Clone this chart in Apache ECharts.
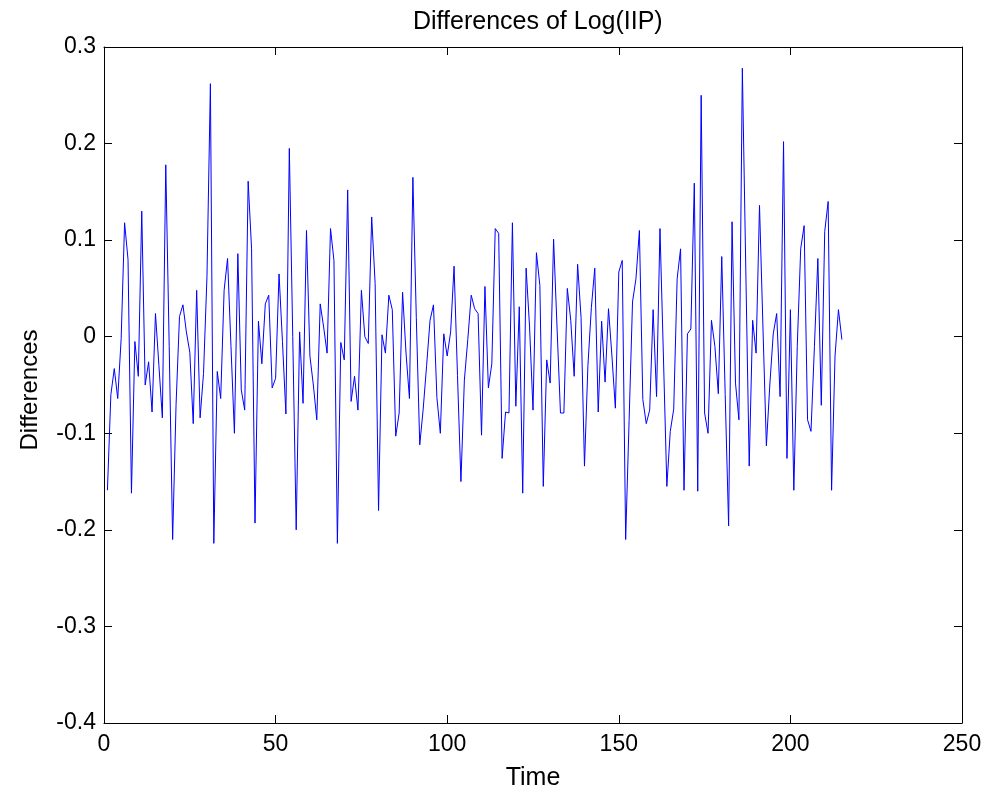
<!DOCTYPE html>
<html>
<head>
<meta charset="utf-8">
<script src="https://cdn.jsdelivr.net/npm/echarts@6/dist/echarts.min.js"></script>
<style>html,body{margin:0;padding:0;background:#fff;}#chart{width:990px;height:796px;}</style>
</head>
<body>
<div id="chart"></div>
<script>
const titleText = 'Differences of Log(IIP)';
const xName = 'Time';
const yName = 'Differences';
const xTicks = [0, 50, 100, 150, 200, 250];
const yTicks = [-0.4, -0.3, -0.2, -0.1, 0, 0.1, 0.2, 0.3];
const diffs = [
 -0.159,-0.060,-0.033,-0.064,-0.002,0.118,0.080,-0.162,-0.005,-0.041,
 0.130,-0.050,-0.026,-0.078,0.024,-0.030,-0.084,0.178,-0.010,-0.210,
 -0.070,0.021,0.033,0.005,-0.016,-0.090,0.048,-0.084,-0.038,0.062,
 0.262,-0.214,-0.036,-0.064,0.048,0.081,-0.010,-0.100,0.086,-0.055,
 -0.076,0.161,0.091,-0.193,0.016,-0.028,0.034,0.043,-0.053,-0.043,
 0.065,-0.005,-0.080,0.195,0.000,-0.200,0.005,-0.069,0.110,-0.020,
 -0.050,-0.086,0.034,0.010,-0.017,0.112,0.079,-0.214,-0.006,-0.024,
 0.152,-0.067,-0.041,-0.076,0.048,0.000,-0.007,0.124,0.055,-0.180,
 0.002,-0.017,0.043,0.028,-0.103,-0.079,0.046,-0.017,-0.064,0.165,
 0.020,-0.112,-0.075,-0.030,0.017,0.033,-0.063,-0.100,0.003,-0.020,
 0.005,0.073,-0.040,-0.150,-0.045,-0.003,0.043,0.029,0.024,-0.102,
 0.052,-0.053,-0.028,0.112,0.107,-0.126,-0.078,-0.079,0.118,-0.072,
 0.031,-0.162,0.071,0.010,-0.076,0.087,0.053,-0.155,-0.024,-0.048,
 0.101,0.010,-0.079,-0.079,0.050,0.017,-0.041,0.075,0.020,-0.134,
 -0.030,0.030,0.071,-0.078,0.016,-0.047,0.029,-0.020,-0.074,0.067,
 0.079,-0.210,-0.087,0.036,0.060,0.110,-0.065,-0.090,-0.076,0.028,
 -0.062,0.112,-0.020,-0.155,-0.098,-0.075,0.060,0.091,-0.159,0.003,
 0.008,0.159,-0.160,0.250,-0.079,-0.100,0.017,-0.010,-0.059,0.083,
 -0.060,-0.196,0.119,-0.048,-0.086,0.278,0.070,-0.134,0.017,-0.017,
 0.136,0.010,-0.113,-0.050,0.003,0.024,-0.062,0.202,-0.126,0.028,
 -0.159,-0.010,0.091,0.115,-0.086,-0.098,-0.010,0.081,-0.071,0.109,
 0.140,-0.159,-0.020,0.028,-0.003
];

const font = 'Arial, "Liberation Sans", Helvetica, sans-serif';
const FS = 23;
const FS_NAME = 25;
const chart = echarts.init(document.getElementById('chart'));
const xMin = xTicks[0], xMax = xTicks[xTicks.length-1], xInt = xTicks[1]-xTicks[0];
const yMin = yTicks[0], yMax = yTicks[yTicks.length-1];
const tickStyle = {show:true, inside:true, length:8, lineStyle:{color:'#000', width:1}};
const lineStyle = {show:true, onZero:false, lineStyle:{color:'#000', width:1}};
const labelY = v => {
  const r = Math.round(v*10)/10;
  return r === 0 ? '0' : String(r);
};
chart.setOption({
  animation:false,
  backgroundColor:'#fff',
  title:{text:titleText, left:408, top:5,
    textStyle:{fontFamily:font, fontSize:FS_NAME, fontWeight:'normal', color:'#000'}},
  grid:{left:104, right:28, top:47, bottom:72, containLabel:false},
  graphic:[{
    type:'text', x:30, y:390, rotation:Math.PI/2,
    style:{text:yName, fontFamily:font, fontSize:24, fill:'#000',
           textAlign:'center', textVerticalAlign:'middle', verticalAlign:'middle'}
  }],
  xAxis:[
    {type:'value', min:xMin, max:xMax, interval:xInt, position:'bottom',
     name:xName, nameLocation:'middle', nameGap:43,
     nameTextStyle:{fontFamily:font, fontSize:FS_NAME, color:'#000'},
     axisLine:lineStyle, axisTick:tickStyle, splitLine:{show:false},
     axisLabel:{fontFamily:font, fontSize:FS, color:'#000', margin:10}},
    {type:'value', min:xMin, max:xMax, interval:xInt, position:'top',
     axisLine:lineStyle, axisTick:tickStyle, splitLine:{show:false},
     axisLabel:{show:false}}
  ],
  yAxis:[
    {type:'value', min:yMin, max:yMax, interval:0.1, position:'left',
     axisLine:lineStyle, axisTick:tickStyle, splitLine:{show:false},
     axisLabel:{fontFamily:font, fontSize:FS, color:'#000', margin:8, formatter:labelY}},
    {type:'value', min:yMin, max:yMax, interval:0.1, position:'right',
     axisLine:lineStyle, axisTick:tickStyle, splitLine:{show:false},
     axisLabel:{show:false}}
  ],
  series:[{
    type:'line', xAxisIndex:0, yAxisIndex:0,
    data: diffs.map((v,i)=>[i+1, v]),
    showSymbol:false, symbol:'none',
    lineStyle:{color:'#0000ff', width:1},
    itemStyle:{color:'#0000ff'}
  }]
});
</script>
</body>
</html>
